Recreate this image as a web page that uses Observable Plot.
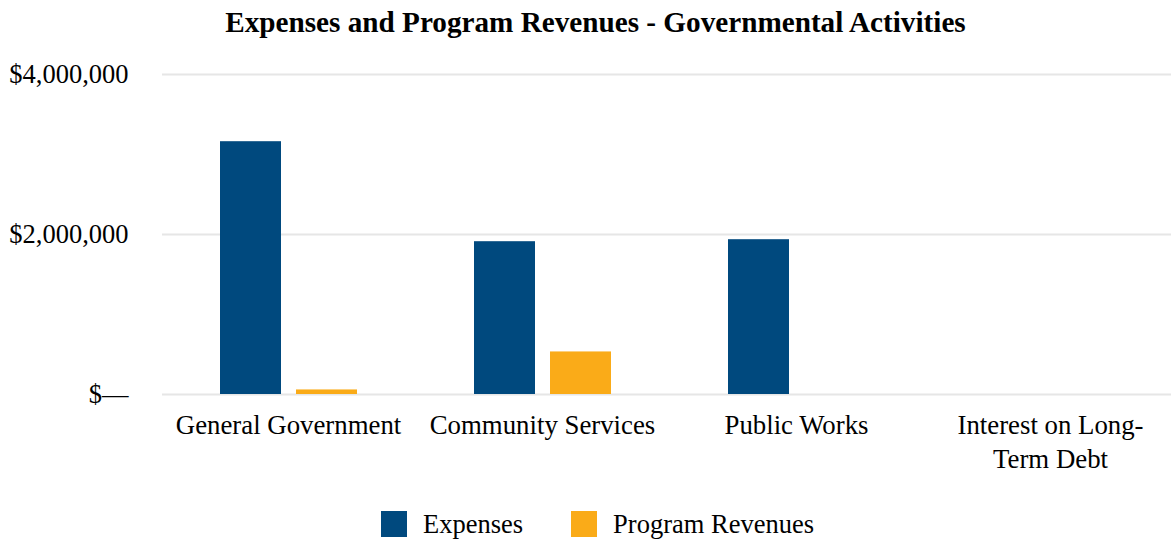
<!DOCTYPE html>
<html>
<head>
<meta charset="utf-8">
<script src="https://cdn.jsdelivr.net/npm/d3@7"></script>
<script src="https://cdn.jsdelivr.net/npm/@observablehq/plot@0.6"></script>
<style>
  body { margin: 0; background: #fff; font-family: "Liberation Serif", "Times New Roman", serif; overflow: hidden; }
  #title { height: 44px; line-height: 44px; text-align: center; font-weight: bold; font-size: 29.2px; color: #000; padding-left: 20px; }
  #chart svg { display: block; }
  #legend { display: flex; justify-content: center; align-items: center; font-size: 26.5px; height: 50px; padding-left: 24px; margin-top: 8px; }
  .item { display: flex; align-items: center; margin: 0 24px; }
  .sw { width: 26px; height: 26px; margin-right: 16px; }
</style>
</head>
<body>
<div id="title">Expenses and Program Revenues - Governmental Activities</div>
<div id="chart"></div>
<div id="legend"></div>
<script>
const categories = ["General Government", "Community Services", "Public Works", "Interest on Long-Term Debt"];
const tickLabels = ["General Government", "Community Services", "Public Works", "Interest on Long-\nTerm Debt"];
const series = ["Expenses", "Program Revenues"];
const expenses = [3160000, 1910000, 1935000, 0];
const programRevenues = [57000, 532000, 0, 0];
const yTicks = [0, 2000000, 4000000];
const colors = ["#00497e", "#faab18"];

const data = [];
categories.forEach((c, i) => {
  data.push({category: c, series: series[0], value: expenses[i]});
  data.push({category: c, series: series[1], value: programRevenues[i]});
});

const chart = Plot.plot({
  width: 1171,
  height: 447,
  marginTop: 30,
  marginBottom: 97,
  marginLeft: 162,
  marginRight: -7,
  style: {fontFamily: "'Liberation Serif', 'Times New Roman', serif", fontSize: "27px", color: "#000", background: "#fff", overflow: "hidden"},
  fx: {domain: categories, padding: 0, label: null},
  x: {domain: series, paddingInner: 0.195, paddingOuter: 0.747, axis: null},
  y: {domain: [0, 4000000], label: null, ticks: yTicks},
  color: {domain: series, range: colors},
  marks: [
    Plot.gridY(yTicks, {stroke: "#e6e6e6", strokeOpacity: 1, strokeWidth: 2}),
    Plot.axisY(yTicks, {tickSize: 0, tickPadding: 34, fontSize: 26.5, tickFormat: d => d === 0 ? "$\u2014" : "$" + d3.format(",")(d), label: null}),
    Plot.axisFx({anchor: "bottom", tickSize: 0, tickPadding: 15, fontSize: 26.8, lineHeight: 1.27, dx: -1, label: null, tickFormat: d => tickLabels[categories.indexOf(d)]}),
    Plot.barY(data, {fx: "category", x: "series", y: "value", fill: "series"})
  ]
});
document.getElementById("chart").appendChild(chart);

const legend = document.getElementById("legend");
series.forEach((s, i) => {
  const it = document.createElement("div");
  it.className = "item";
  const sw = document.createElement("div");
  sw.className = "sw";
  sw.style.background = colors[i];
  const t = document.createElement("span");
  t.textContent = s;
  it.appendChild(sw);
  it.appendChild(t);
  legend.appendChild(it);
});
</script>
</body>
</html>
